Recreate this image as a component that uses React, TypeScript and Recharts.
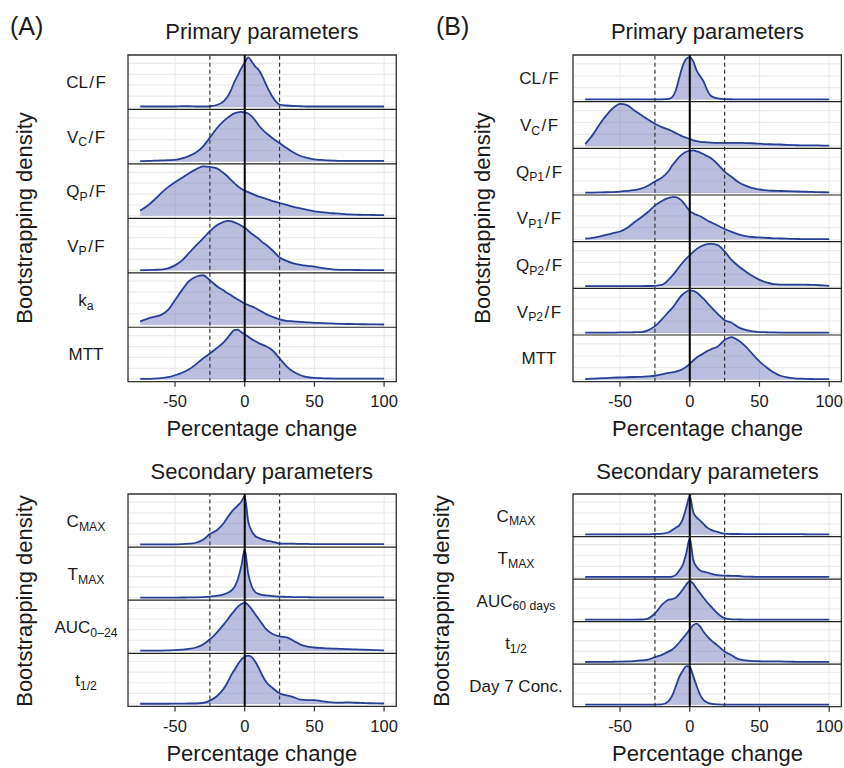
import React from 'react';
import { ComposedChart, Area, XAxis, YAxis, CartesianGrid, ReferenceLine, ReferenceArea } from 'recharts';

const FONT = '"Liberation Sans", Arial, Helvetica, sans-serif';

// ---------- data ----------
const X_GRID = [-75, -70, -65, -60, -55, -50, -45, -40, -35, -30, -25, -20, -15, -12.5, -10, -7.5, -5, -2.5, 0, 2.5, 5, 7.5, 10, 12.5, 15, 20, 25, 30, 35, 40, 45, 50, 55, 60, 65, 70, 75, 80, 85, 90, 95, 100];
const X_TICKS = [-50, 0, 50, 100];
const X_DOMAIN: [number, number] = [-83.75, 108.75];
const DASHED_LINES = [-25, 25];
const ZERO_LINE = 0;

// (A) primary
const A_CLF = [1, 1, 1, 1, 1, 1, 1.5, 1.5, 1, 1, 1.5, 4, 12, 20, 33, 50, 64, 78, 90, 100, 92, 82, 75, 63, 47, 20, 5, 3, 2, 1.5, 1, 1, 1, 1, 1, 1, 1, 1, 1, 1, 1, 1];
const A_VCF = [0.5, 1, 1.5, 2, 2.5, 3, 6, 11, 18, 30, 48, 67, 82, 88, 93, 97, 99, 100, 99, 97, 91, 83, 73, 65, 58, 47, 37, 27, 18, 11, 7, 4, 3, 2, 1.5, 1, 1, 1, 1, 1, 1.2, 1];
const A_QPF = [11, 20, 32, 46, 58, 68, 77, 86, 94, 100, 99, 96, 86, 80, 73, 66, 60, 55, 51, 48, 45, 42, 39, 37, 35, 30, 26, 22, 18, 15, 12, 9, 7.5, 6, 5, 4, 3, 2.5, 2, 2, 1.5, 1.5];
const A_VPF = [0.5, 0.5, 1, 1.5, 4, 10, 20, 35, 50, 64, 79, 91, 98, 100, 99.5, 97, 94, 90, 86, 80, 74, 69, 64, 57, 52, 40, 26, 19, 14, 11, 9, 7.5, 5, 3, 1.5, 1, 0.8, 0.6, 0.5, 0.5, 0.5, 0.5];
const A_KA = [7, 12, 16, 20, 30, 50, 70, 88, 97, 100, 90, 78, 69, 64, 60, 55, 51, 47, 43, 40, 37, 34, 30, 26, 22, 16, 11, 8, 7, 6, 5, 4, 3.5, 3, 2.5, 2, 1.5, 1.2, 1, 0.8, 0.6, 0.5];
const A_MTT = [0.5, 0.5, 1, 2, 4, 8, 13, 20, 30, 42, 52, 63, 75, 83, 92, 99, 100, 95, 91, 86, 81, 77, 73, 70, 67, 58, 42, 26, 15, 8, 4, 2.5, 2, 1.5, 1.2, 1, 1, 1, 1, 1, 1, 1];

// (A) secondary
const A_CMAX = [0.5, 0.5, 0.5, 0.5, 0.5, 0.7, 1, 2, 4, 10, 22, 30, 45, 56, 66, 74, 81, 89, 100, 48, 28, 18, 14, 11, 9, 6, 2.5, 2, 2, 1.5, 1.5, 1.2, 1.2, 1, 1, 1, 1, 1, 1, 1, 1, 1];
const A_TMAX = [0.5, 0.5, 0.5, 0.5, 0.5, 0.5, 0.6, 0.7, 1, 1.5, 2.5, 4, 7, 10, 14, 22, 38, 65, 100, 50, 24, 12, 8, 6, 5, 3.5, 2.5, 2, 1.5, 1.5, 1.2, 1, 1, 1, 1, 1, 1, 1, 1, 1, 1, 1];
const A_AUC = [0.5, 0.5, 0.5, 0.7, 1, 1.5, 2.5, 4, 7, 13, 24, 38, 55, 64, 74, 83, 91, 97, 100, 95, 86, 76, 66, 56, 46, 35, 30, 28, 21, 13, 9, 7, 6, 5, 4.5, 4, 3.5, 3, 2.5, 2, 1.5, 1];
const A_T12 = [0.5, 0.5, 0.5, 0.5, 0.5, 0.6, 0.7, 1, 1, 2, 7, 16, 32, 44, 58, 70, 82, 92, 98, 100, 97, 88, 75, 60, 47, 33, 22, 18, 14, 9, 8, 8, 6, 4, 3, 3, 3.5, 2.5, 2, 1.5, 1.2, 1];

// (B) primary
const B_CLF = [0.5, 0.5, 0.5, 0.5, 0.5, 0.5, 0.5, 0.5, 0.5, 0.5, 0.5, 0.5, 1.5, 6, 22, 52, 80, 96, 100, 90, 68, 55, 42, 22, 9, 2.5, 1, 0.7, 0.5, 0.5, 0.5, 0.5, 0.5, 0.5, 0.5, 0.5, 0.5, 0.5, 0.5, 0.5, 0.5, 0.5];
const B_VCF = [5, 25, 50, 72, 90, 100, 97, 85, 74, 63, 53, 45, 39, 35, 31, 27, 23, 20, 17, 14, 12, 10, 9.5, 9, 8.5, 8, 8, 8, 8, 7.5, 7, 6, 5, 4.5, 4, 3, 2.5, 2, 2, 2, 1.5, 1.5];
const B_QP1 = [0.5, 0.7, 1, 1.5, 2, 3, 4.5, 6.5, 10, 17, 27, 36, 52, 65, 75, 85, 92, 97, 99, 100, 98, 95, 91, 87, 82, 68, 50, 38, 25, 17, 11, 8, 6, 5, 4.5, 4, 3.5, 3, 2.5, 2, 1.5, 1];
const B_VP1 = [2, 4, 7, 11, 15, 19, 27, 40, 52, 65, 80, 91, 98, 100, 100, 96, 89, 78, 67, 62, 58, 55, 50, 45, 41, 33, 25, 18, 12, 8, 6, 5, 4, 3, 2.5, 2, 1.5, 1.2, 1, 1, 1, 1];
const B_QP2 = [0.3, 0.3, 0.3, 0.3, 0.3, 0.3, 0.3, 0.4, 0.4, 0.5, 1, 3, 16, 25, 35, 46, 56, 65, 73, 81, 88, 93, 97, 99, 100, 97, 82, 62, 47, 35, 24, 15, 9, 5, 4, 4, 4, 4, 3.5, 3, 2, 1];
const B_VP2 = [0.5, 0.5, 0.5, 0.5, 0.7, 1, 1, 1.5, 2, 6, 16, 32, 50, 59, 70, 82, 91, 97, 100, 99, 95, 88, 80, 71, 62, 45, 30, 24, 13, 7, 3.5, 2, 1.5, 1, 0.7, 0.5, 0.5, 0.5, 0.5, 0.5, 0.5, 0.5];
const B_MTT = [1, 2, 3, 3.5, 4.5, 5, 5.5, 6, 6.5, 7.5, 9, 12, 16, 17, 19, 21, 25, 30, 37, 45, 52, 57, 62, 67, 71, 78, 93, 100, 92, 78, 60, 43, 29, 17, 9, 5, 3, 2, 1.5, 1, 1, 1];

// (B) secondary
const B_CMAX = [0.5, 0.5, 0.5, 0.5, 0.5, 0.5, 0.5, 0.6, 0.6, 0.7, 1.5, 2.5, 6, 12, 18, 24, 40, 70, 100, 58, 44, 36, 27, 18, 13, 7, 2.5, 1.5, 1.5, 1.2, 1, 1, 1.2, 1, 1, 1, 1.2, 1, 0.8, 0.6, 0.5, 0.5];
const B_TMAX = [0.5, 0.5, 0.5, 0.5, 0.5, 0.5, 0.5, 0.5, 0.5, 0.5, 0.5, 0.5, 0.7, 1.5, 6, 17, 32, 62, 100, 45, 26, 17, 14, 12, 9, 5, 4, 3.5, 3, 1.5, 1, 0.5, 0.5, 0.5, 0.5, 0.5, 0.5, 0.5, 0.5, 0.5, 0.5, 0.5];
const B_AUC = [0.3, 0.3, 0.3, 0.3, 0.3, 0.3, 0.3, 0.4, 0.5, 3, 16, 38, 52, 53, 57, 66, 78, 91, 100, 93, 80, 68, 56, 45, 35, 16, 4, 1, 0.5, 0.3, 0.3, 0.3, 0.3, 0.3, 0.3, 0.3, 0.3, 0.3, 0.3, 0.3, 0.3, 0.3];
const B_T12 = [0.5, 0.7, 1, 1, 1.2, 1.5, 2, 3, 4.5, 7, 13, 19, 28, 33, 41, 51, 62, 73, 85, 96, 100, 92, 78, 67, 58, 43, 28, 18, 8, 5, 3, 2.5, 2, 2, 2, 1.5, 1.2, 1, 1, 1, 0.8, 0.7];
const B_DAY7 = [0.3, 0.3, 0.3, 0.3, 0.3, 0.3, 0.3, 0.3, 0.3, 0.4, 0.5, 1, 10, 24, 48, 72, 88, 100, 98, 74, 48, 25, 12, 6, 3, 1, 0.5, 0.3, 0.3, 0.3, 0.3, 0.3, 0.3, 0.3, 0.3, 0.3, 0.3, 0.3, 0.3, 0.3, 0.3, 0.3];

// facet labels: [main, subscript, tail]
const A_PRIMARY_LABELS = [['CL', '', '/F'], ['V', 'C', '/F'], ['Q', 'P', '/F'], ['V', 'P', '/F'], ['k', 'a', ''], ['MTT', '', '']];
const A_SECONDARY_LABELS = [['C', 'MAX', ''], ['T', 'MAX', ''], ['AUC', '0\u201324', ''], ['t', '1/2', '']];
const B_PRIMARY_LABELS = [['CL', '', '/F'], ['V', 'C', '/F'], ['Q', 'P1', '/F'], ['V', 'P1', '/F'], ['Q', 'P2', '/F'], ['V', 'P2', '/F'], ['MTT', '', '']];
const B_SECONDARY_LABELS = [['C', 'MAX', ''], ['T', 'MAX', ''], ['AUC', '60 days', ''], ['t', '1/2', ''], ['Day 7 Conc.', '', '']];

const A_PRIMARY = [A_CLF, A_VCF, A_QPF, A_VPF, A_KA, A_MTT];
const A_SECONDARY = [A_CMAX, A_TMAX, A_AUC, A_T12];
const B_PRIMARY = [B_CLF, B_VCF, B_QP1, B_VP1, B_QP2, B_VP2, B_MTT];
const B_SECONDARY = [B_CMAX, B_TMAX, B_AUC, B_T12, B_DAY7];

const TITLE_PRIMARY = 'Primary parameters';
const TITLE_SECONDARY = 'Secondary parameters';
const X_TITLE = 'Percentage change';
const Y_TITLE = 'Bootstrapping density';

// ---------- styling ----------
const STROKE = '#283f97';
const FILL = '#5c64b0';
const TEXT = '#1a1a1a';

const toPoints = (vals: number[]) => X_GRID.map((x, i) => ({ x, y: vals[i] }));

function RowLabel({ parts }: { parts: string[] }) {
  const [main, sub, tail] = parts;
  const t = tail ? tail.replace('/', '\u200a/\u200a') : '';
  return (
    <>
      {main}
      {sub ? <span style={{ fontSize: '0.72em', position: 'relative', top: '0.3em' }}>{sub}</span> : null}
      {t}
    </>
  );
}

type Box = { left: number; top: number; right: number; bottom: number };
type PanelCfg = {
  box: Box;
  series: number[][];
  labels: string[][];
  title: string;
  labelX: number;
  yTitleX: number;
  gridFracs: number[];
  titleBaseline: number;
  xTitleBaseline: number;
};

const TITLE_FS = 22;
const LABEL_FS = 17;
const TICK_FS = 16.5;

function Panel({ cfg }: { cfg: PanelCfg }) {
  const { box, series, labels, title, labelX, yTitleX, gridFracs, titleBaseline, xTitleBaseline } = cfg;
  const n = series.length;
  const plotW = box.right - box.left;
  const plotH = box.bottom - box.top;
  const pad = 5;
  const axisH = 32;
  const rowH = plotH / n;
  const gridTicks: number[] = [];
  for (let i = 0; i < n; i++) for (const f of gridFracs) gridTicks.push(n - 1 - i + (0.05 + f) / 1.1);
  const separators = Array.from({ length: n - 1 }, (_, k) => k + 1);
  const cx = (box.left + box.right) / 2;
  const cy = (box.top + box.bottom) / 2;

  return (
    <>
      <div style={{ position: 'absolute', left: box.left - pad, top: box.top - pad }}>
        <ComposedChart
          width={plotW + 2 * pad}
          height={plotH + 2 * pad + axisH}
          margin={{ top: pad, right: pad, bottom: pad, left: pad }}
        >
          <CartesianGrid stroke="#ebebeb" strokeWidth={1.2} />
          <XAxis
            dataKey="x"
            type="number"
            domain={X_DOMAIN}
            ticks={X_TICKS}
            allowDataOverflow
            height={axisH}
            tickSize={5}
            tickMargin={9}
            axisLine={false}
            tickLine={{ stroke: '#333', strokeWidth: 1.2 }}
            tick={{ fill: TEXT, fontSize: TICK_FS, fontFamily: FONT }}
          />
          <YAxis yAxisId={0} type="number" domain={[0, n]} ticks={gridTicks} interval={0} hide allowDataOverflow />
          {series.map((vals, i) => {
            const M = Math.max(...vals);
            const d0 = -0.05 * M - (n - 1 - i) * 1.1 * M;
            const d1 = d0 + n * 1.1 * M;
            return <YAxis key={`y${i}`} yAxisId={`r${i}`} type="number" domain={[d0, d1]} hide allowDataOverflow />;
          })}
          {series.map((vals, i) => (
            <Area
              key={`a${i}`}
              yAxisId={`r${i}`}
              data={toPoints(vals)}
              dataKey="y"
              type="monotone"
              baseValue={0}
              stroke={STROKE}
              strokeWidth={1.8}
              fill={FILL}
              fillOpacity={0.42}
              dot={false}
              activeDot={false}
              isAnimationActive={false}
            />
          ))}
          {DASHED_LINES.map((x) => (
            <ReferenceLine key={`d${x}`} yAxisId={0} x={x} stroke="#333" strokeWidth={1.2} strokeDasharray="4 3" />
          ))}
          <ReferenceLine yAxisId={0} x={ZERO_LINE} stroke="#000" strokeWidth={2} />
          {separators.map((k) => (
            <ReferenceLine key={`s${k}`} yAxisId={0} y={k} stroke="#222" strokeWidth={1.2} />
          ))}
          <ReferenceArea
            yAxisId={0}
            x1={X_DOMAIN[0]}
            x2={X_DOMAIN[1]}
            y1={0}
            y2={n}
            fill="none"
            fillOpacity={0}
            stroke="#333"
            strokeWidth={1.3}
            ifOverflow="visible"
          />
        </ComposedChart>
      </div>

      <div
        style={{
          position: 'absolute',
          left: cx,
          top: titleBaseline - 0.8465 * TITLE_FS,
          transform: 'translateX(-50%)',
          fontSize: TITLE_FS,
          lineHeight: 1,
          whiteSpace: 'nowrap',
          color: TEXT,
        }}
      >
        {title}
      </div>
      <div
        style={{
          position: 'absolute',
          left: cx,
          top: xTitleBaseline - 0.8465 * TITLE_FS,
          transform: 'translateX(-50%)',
          fontSize: TITLE_FS,
          lineHeight: 1,
          whiteSpace: 'nowrap',
          color: TEXT,
        }}
      >
        {X_TITLE}
      </div>
      <div
        style={{
          position: 'absolute',
          left: yTitleX,
          top: cy,
          transform: 'translate(-50%, -50%) rotate(-90deg)',
          fontSize: TITLE_FS,
          lineHeight: 1,
          whiteSpace: 'nowrap',
          color: TEXT,
        }}
      >
        {Y_TITLE}
      </div>
      {labels.map((parts, i) => (
        <div
          key={`l${i}`}
          style={{
            position: 'absolute',
            left: labelX,
            top: box.top + (i + 0.5) * rowH,
            transform: 'translate(-50%, -50%)',
            fontSize: LABEL_FS,
            lineHeight: 1,
            whiteSpace: 'nowrap',
            color: TEXT,
          }}
        >
          <RowLabel parts={parts} />
        </div>
      ))}
    </>
  );
}

const PANELS: PanelCfg[] = [
  {
    box: { left: 127.7, top: 55, right: 396, bottom: 381.7 },
    series: A_PRIMARY,
    labels: A_PRIMARY_LABELS,
    title: TITLE_PRIMARY,
    labelX: 86,
    yTitleX: 25,
    gridFracs: [0, 0.22, 0.44, 0.66, 0.88],
    titleBaseline: 39.3,
    xTitleBaseline: 436.7,
  },
  {
    box: { left: 127.7, top: 494.3, right: 396, bottom: 706.7 },
    series: A_SECONDARY,
    labels: A_SECONDARY_LABELS,
    title: TITLE_SECONDARY,
    labelX: 86,
    yTitleX: 25,
    gridFracs: [0, 0.22, 0.44, 0.66, 0.88],
    titleBaseline: 479.3,
    xTitleBaseline: 761.7,
  },
  {
    box: { left: 573.3, top: 55, right: 841.7, bottom: 381.7 },
    series: B_PRIMARY,
    labels: B_PRIMARY_LABELS,
    title: TITLE_PRIMARY,
    labelX: 539,
    yTitleX: 483,
    gridFracs: [0, 0.28, 0.56, 0.84],
    titleBaseline: 39.3,
    xTitleBaseline: 436.7,
  },
  {
    box: { left: 573.3, top: 494.3, right: 841.7, bottom: 707 },
    series: B_SECONDARY,
    labels: B_SECONDARY_LABELS,
    title: TITLE_SECONDARY,
    labelX: 516,
    yTitleX: 441.5,
    gridFracs: [0, 0.28, 0.56, 0.84],
    titleBaseline: 479.3,
    xTitleBaseline: 761.7,
  },
];

const PANEL_TAGS = [
  { text: '(A)', left: 10 },
  { text: '(B)', left: 436 },
];

export default function App() {
  return (
    <div
      style={{
        position: 'absolute',
        left: 0,
        top: 0,
        width: 844,
        height: 768,
        overflow: 'hidden',
        background: '#fff',
        fontFamily: FONT,
      }}
    >
      {PANEL_TAGS.map((t) => (
        <div
          key={t.text}
          style={{
            position: 'absolute',
            left: t.left,
            top: 35 - 0.8465 * 25,
            fontSize: 25,
            lineHeight: 1,
            color: TEXT,
          }}
        >
          {t.text}
        </div>
      ))}
      {PANELS.map((p, i) => (
        <Panel key={i} cfg={p} />
      ))}
    </div>
  );
}
